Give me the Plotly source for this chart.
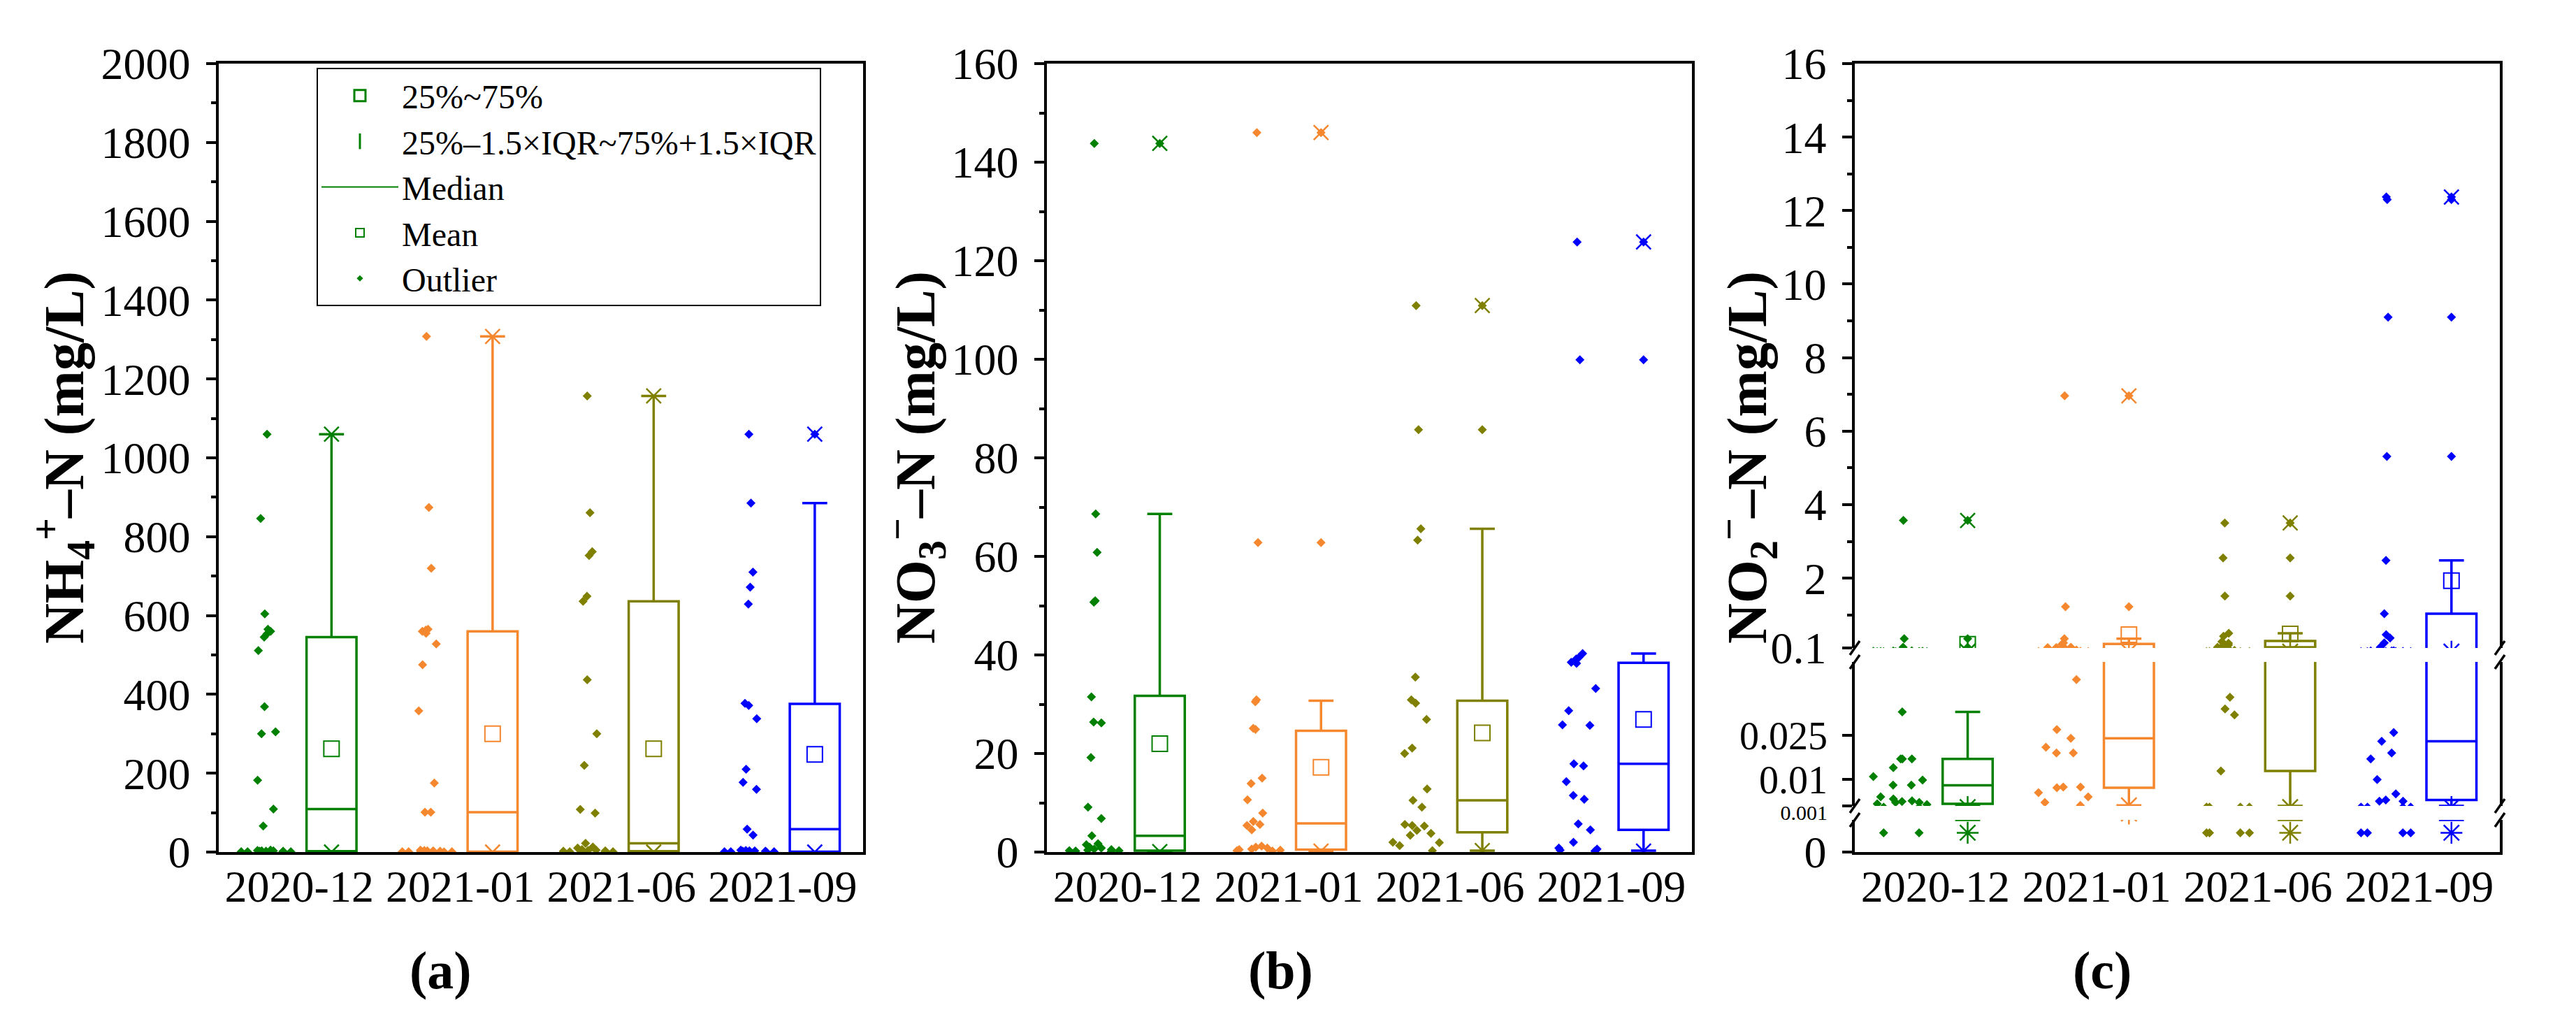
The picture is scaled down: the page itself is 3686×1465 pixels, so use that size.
import plotly.graph_objects as go

# ---------------------------------------------------------------- data
CATEGORIES = ["2020-12", "2021-01", "2021-06", "2021-09"]
COLORS = ["#008000", "#F5882F", "#808000", "#0000FF"]

# (a) NH4+-N raw samples (mg/L)
NH4_2020_12 = [1060, 846, 604, 565, 560, 553, 545, 511, 369, 305, 300, 182, 109, 66,
               5, 4, 3, 3, 2, 2, 2, 1, 1, 1, 0.5]
NH4_2021_01 = [1308, 874, 720, 565, 563, 560, 555, 528, 475, 358, 175, 101, 101,
               5, 4, 3, 3, 2, 2, 1, 1, 1, 0.5]
NH4_2021_06 = [1157, 861, 762, 752, 649, 636, 437, 300, 220, 108, 99, 22, 13, 10,
               6, 5, 4, 3, 2, 2, 1, 1, 1]
NH4_2021_09 = [1060, 885, 710, 672, 629, 377, 372, 338, 210, 177, 159, 58, 43,
               5, 4, 3, 3, 2, 2, 1, 1, 1, 0.5]
NH4_Q1 = [2, 1, 2, 1]
NH4_MEDIAN = [109, 101, 22, 58]
NH4_Q3 = [545, 560, 636, 376]
NH4_LOWER = [0, 0, 0, 0]
NH4_UPPER = [1060, 1308, 1157, 885]
NH4_MEAN = [262, 300, 262, 248]
NH4_MAX = [1060, 1308, 1157, 1060]
NH4_MIN = [0, 0, 0, 0]
NH4_OUTLIERS = [[], [], [], [1060]]

# (b) NO3--N raw samples (mg/L)
NO3_2020_12 = [143.8, 68.6, 60.8, 51.0, 50.7, 31.5, 26.4, 26.2, 19.2, 9.1, 6.8, 3.3,
               1.7, 1.5, 1.0, 0.8, 0.6, 0.5, 0.4, 0.3, 0.3, 0.2, 0.1]
NO3_2021_01 = [146.0, 62.8, 30.9, 30.5, 25.1, 24.9, 15.0, 13.9, 10.6, 7.9, 6.2, 5.6,
               5.4, 4.5, 1.2, 1.0, 0.8, 0.6, 0.5, 0.4, 0.3, 0.2]
NO3_2021_06 = [110.9, 85.7, 65.6, 63.3, 35.5, 30.9, 30.2, 26.9, 21.1, 20.0, 12.8, 10.5,
               9.1, 5.6, 5.4, 5.3, 4.4, 3.8, 3.4, 2.0, 1.9, 1.3, 0.3]
NO3_2021_09 = [123.8, 99.9, 40.3, 39.5, 39.2, 38.5, 38.3, 33.2, 28.7, 25.8, 25.7, 17.9,
               17.5, 14.3, 11.5, 10.7, 5.7, 4.5, 2.0, 0.8, 0.6, 0.4, 0.2]
NO3_Q1 = [0.3, 0.5, 4.0, 4.5]
NO3_MEDIAN = [3.3, 5.8, 10.5, 17.9]
NO3_Q3 = [31.7, 24.6, 30.7, 38.4]
NO3_LOWER = [0.1, 0.2, 0.3, 0.3]
NO3_UPPER = [68.6, 30.7, 65.6, 40.3]
NO3_MEAN = [22.0, 17.2, 24.2, 26.9]
NO3_MAX = [143.8, 146.0, 110.9, 123.8]
NO3_MIN = [0.1, 0.2, 0.3, 0.2]
NO3_OUTLIERS = [[143.8], [62.8, 146.0], [85.7, 110.9], [99.9, 123.8]]

# (c) NO2--N raw samples (mg/L)
NO2_2020_12 = [3.57, 0.35, 0.12, 0.033, 0.017, 0.017, 0.017, 0.014, 0.011, 0.0098,
               0.0081, 0.0081, 0.0041, 0.0034, 0.0027, 0.0025, 0.0022, 0.0022, 0.0017,
               0.0015, 0.0006, 0.0006]
NO2_2021_01 = [6.96, 1.22, 0.35, 0.24, 0.20, 0.13, 0.12, 0.11, 0.11, 0.044, 0.027,
               0.024, 0.021, 0.019, 0.019, 0.0074, 0.0074, 0.0072, 0.0055, 0.0041,
               0.0022, 0.0012]
NO2_2021_06 = [3.50, 2.55, 1.51, 0.50, 0.42, 0.27, 0.23, 0.18, 0.18, 0.12, 0.11, 0.038,
               0.034, 0.032, 0.0129, 0.0006, 0.0006, 0.0006, 0.0006]
NO2_2021_09 = [12.37, 12.30, 9.10, 5.31, 2.48, 1.03, 0.46, 0.37, 0.24, 0.12, 0.026,
               0.023, 0.019, 0.017, 0.010, 0.0051, 0.0030, 0.0026, 0.0026, 0.0006,
               0.0006, 0.0006, 0.0006]
NO2_Q1 = [0.0017, 0.0072, 0.0129, 0.0030]
NO2_MEDIAN = [0.008, 0.024, 0.12, 0.023]
NO2_Q3 = [0.017, 0.21, 0.29, 1.03]
NO2_LOWER = [0.001, 0.0012, 0.001, 0.001]
NO2_UPPER = [0.033, 0.35, 0.50, 2.48]
NO2_MEAN = [0.20, 0.46, 0.48, 1.93]
NO2_MAX = [3.57, 6.96, 3.50, 12.37]
NO2_MIN = [0.0006, 0.0012, 0.0006, 0.0006]
NO2_OUTLIERS = [[3.57, 0.35, 0.12], [6.96, 1.22], [3.50, 2.55, 1.51],
                [12.37, 12.30, 9.10, 5.31]]

# axis ticks
NH4_TICKS = [0, 200, 400, 600, 800, 1000, 1200, 1400, 1600, 1800, 2000]
NO3_TICKS = [0, 20, 40, 60, 80, 100, 120, 140, 160]
NO2_TOP_TICKS = [0.1, 2, 4, 6, 8, 10, 12, 14, 16]
NO2_MID_TICKS = [0.001, 0.01, 0.025]
NO2_LOW_TICKS = [0]

LEGEND_LABELS = ["25%~75%", "25%–1.5×IQR~75%+1.5×IQR", "Median", "Mean", "Outlier"]

# ---------------------------------------------------------------- layout constants
FONT = "Liberation Serif"
W, H = 3686, 1465
M_L, M_R, M_T, M_B = 305, 117, 83, 254
PW = W - M_L - M_R
PH = H - M_T - M_B

PANEL_PX = [(0, 922), (1185, 2108), (2341, 3264)]
SEG_PX = [(0, 46), (66, 272), (292, 1128)]   # broken axis segments of panel (c)


def fx(px):
    return px / PW


def fy(px):
    return px / PH


BOX_SHIFT = 0.2      # box drawn right of the category centre
SWARM_SHIFT = -0.2   # raw samples drawn left of the category centre
BOX_W = 0.31
SWARM_W = 0.38
JITTER = 1.0
LW = 3.5
TICKFONT = dict(family=FONT, size=64, color="black")

fig = go.Figure()

# ---------------------------------------------------------------- legend entries
G = COLORS[0]
fig.add_trace(go.Scatter(x=[None], y=[None], mode="markers", name=LEGEND_LABELS[0],
                         marker=dict(symbol="square-open", size=16, color=G,
                                     line=dict(width=3, color=G)),
                         xaxis="x", yaxis="y"))
fig.add_trace(go.Scatter(x=[None], y=[None], mode="markers", name=LEGEND_LABELS[1],
                         marker=dict(symbol="line-ns-open", size=16, color=G,
                                     line=dict(width=3, color=G)),
                         xaxis="x", yaxis="y"))
fig.add_trace(go.Scatter(x=[None], y=[None], mode="lines", name=LEGEND_LABELS[2],
                         line=dict(width=2, color=G), xaxis="x", yaxis="y"))
fig.add_trace(go.Scatter(x=[None], y=[None], mode="markers", name=LEGEND_LABELS[3],
                         marker=dict(symbol="square-open", size=12, color=G,
                                     line=dict(width=2, color=G)),
                         xaxis="x", yaxis="y"))
fig.add_trace(go.Scatter(x=[None], y=[None], mode="markers", name=LEGEND_LABELS[4],
                         marker=dict(symbol="diamond", size=7, color=G),
                         xaxis="x", yaxis="y"))


def add_panel(xa, ya, raws, q1, med, q3, lo, up, mean, mx, mn, outl, min_symbol):
    for i in range(len(CATEGORIES)):
        col = COLORS[i]
        pos = i + BOX_SHIFT
        # raw samples, jittered by plotly, left of the box (invisible box body)
        fig.add_trace(go.Box(y=raws[i], x0=i + SWARM_SHIFT, width=SWARM_W,
                             boxpoints="all", jitter=JITTER, pointpos=0,
                             line=dict(width=0, color=col),
                             fillcolor="rgba(0,0,0,0)", whiskerwidth=0,
                             marker=dict(symbol="diamond", size=10, color=col),
                             showlegend=False, xaxis=xa, yaxis=ya))
        # box from the statistics
        fig.add_trace(go.Box(x=[pos], q1=[q1[i]], median=[med[i]], q3=[q3[i]],
                             lowerfence=[lo[i]], upperfence=[up[i]], width=BOX_W,
                             line=dict(width=LW, color=col),
                             fillcolor="rgba(0,0,0,0)", whiskerwidth=0.5,
                             boxpoints=False, showlegend=False, xaxis=xa, yaxis=ya))
        if outl[i]:
            fig.add_trace(go.Scatter(x=[pos] * len(outl[i]), y=outl[i], mode="markers",
                                     marker=dict(symbol="diamond", size=10, color=col),
                                     showlegend=False, xaxis=xa, yaxis=ya))
        fig.add_trace(go.Scatter(x=[pos], y=[mean[i]], mode="markers",
                                 marker=dict(symbol="square-open", size=22, color=col,
                                             line=dict(width=2, color=col)),
                                 showlegend=False, xaxis=xa, yaxis=ya))
        fig.add_trace(go.Scatter(x=[pos], y=[mx[i]], mode="markers",
                                 marker=dict(symbol="x-thin-open", size=21, color=col,
                                             line=dict(width=2.5, color=col)),
                                 showlegend=False, xaxis=xa, yaxis=ya))
        fig.add_trace(go.Scatter(x=[pos], y=[mn[i]], mode="markers",
                                 marker=dict(symbol=min_symbol,
                                             size=26 if "ast" in min_symbol else 21,
                                             color=col, line=dict(width=2.5, color=col)),
                                 showlegend=False, xaxis=xa, yaxis=ya))


add_panel("x", "y", [NH4_2020_12, NH4_2021_01, NH4_2021_06, NH4_2021_09],
          NH4_Q1, NH4_MEDIAN, NH4_Q3, NH4_LOWER, NH4_UPPER, NH4_MEAN, NH4_MAX,
          NH4_MIN, NH4_OUTLIERS, "x-thin-open")
add_panel("x2", "y2", [NO3_2020_12, NO3_2021_01, NO3_2021_06, NO3_2021_09],
          NO3_Q1, NO3_MEDIAN, NO3_Q3, NO3_LOWER, NO3_UPPER, NO3_MEAN, NO3_MAX,
          NO3_MIN, NO3_OUTLIERS, "x-thin-open")
for xa, ya in [("x3", "y3"), ("x4", "y4"), ("x5", "y5")]:
    add_panel(xa, ya, [NO2_2020_12, NO2_2021_01, NO2_2021_06, NO2_2021_09],
              NO2_Q1, NO2_MEDIAN, NO2_Q3, NO2_LOWER, NO2_UPPER, NO2_MEAN, NO2_MAX,
              NO2_MIN, NO2_OUTLIERS, "asterisk-open")


# ---------------------------------------------------------------- axes
def xaxis(panel, anchor, **kw):
    d = dict(domain=[fx(PANEL_PX[panel][0]), fx(PANEL_PX[panel][1])], anchor=anchor,
             type="linear", range=[-0.5, len(CATEGORIES) - 0.5],
             tickmode="array", tickvals=list(range(len(CATEGORIES))),
             ticktext=CATEGORIES,
             ticks="", tickfont=TICKFONT, ticklabelstandoff=-10,
             showline=True, linecolor="black", linewidth=LW, mirror=True,
             showgrid=False, zeroline=False)
    d.update(kw)
    return d


def yaxis(anchor, **kw):
    d = dict(anchor=anchor, showline=True, linecolor="black", linewidth=LW, mirror=True,
             ticks="outside", ticklen=14, tickwidth=LW, tickcolor="black",
             tickfont=TICKFONT, ticklabelstandoff=10, showgrid=False, zeroline=False)
    d.update(kw)
    return d


minor_a = dict(ticks="outside", ticklen=7, tickwidth=LW, tickcolor="black", dtick=100)
minor_b = dict(ticks="outside", ticklen=7, tickwidth=LW, tickcolor="black", dtick=10)
minor_c = dict(ticks="outside", ticklen=7, tickwidth=LW, tickcolor="black", dtick=1, tick0=0)

mid_text = ["<span style='font-size:30px'>0.001</span>", "0.01", "0.025"]

fig.update_layout(
    xaxis=xaxis(0, "y"),
    yaxis=yaxis("x", range=[0, 2000], tickvals=NH4_TICKS, minor=minor_a),
    xaxis2=xaxis(1, "y2"),
    yaxis2=yaxis("x2", range=[0, 160], tickvals=NO3_TICKS, minor=minor_b),
    xaxis3=xaxis(2, "y3", mirror=False),
    yaxis3=yaxis("x3", domain=[fy(SEG_PX[0][0]), fy(SEG_PX[0][1])], range=[0, 0.001],
                 tickvals=NO2_LOW_TICKS, ticktext=["0"]),
    xaxis4=xaxis(2, "y4", showline=False, showticklabels=False, tickvals=[],
                 ticktext=[], matches="x3"),
    yaxis4=yaxis("x4", domain=[fy(SEG_PX[1][0]), fy(SEG_PX[1][1])], range=[0.001, 0.05],
                 tickvals=NO2_MID_TICKS, ticktext=mid_text,
                 tickfont=dict(family=FONT, size=56, color="black")),
    xaxis5=xaxis(2, "y5", side="top", mirror=False, showticklabels=False, tickvals=[],
                 ticktext=[], matches="x3"),
    yaxis5=yaxis("x5", domain=[fy(SEG_PX[2][0]), fy(SEG_PX[2][1])], range=[0.1, 16],
                 tickvals=NO2_TOP_TICKS, ticktext=[str(t) for t in NO2_TOP_TICKS],
                 minor=minor_c),
)

# ---------------------------------------------------------------- broken-axis marks
shapes = []
cx0, cx1 = fx(PANEL_PX[2][0]), fx(PANEL_PX[2][1])
dx, dy = fx(7), fy(10)
for edge in [SEG_PX[0][1], SEG_PX[1][0], SEG_PX[1][1], SEG_PX[2][0]]:
    ey = fy(edge)
    for ex in (cx0, cx1):
        shapes.append(dict(type="line", xref="paper", yref="paper",
                           x0=ex - dx, y0=ey - dy, x1=ex + dx, y1=ey + dy,
                           line=dict(color="black", width=LW)))

# ---------------------------------------------------------------- titles / letters
TITLES = ["NH<sub>4</sub><sup>+</sup>–N (mg/L)",
          "NO<sub>3</sub><sup>−</sup>–N (mg/L)",
          "NO<sub>2</sub><sup>−</sup>–N (mg/L)"]
TITLE_X_PX = [-222, 996, 2186]
LETTERS = ["(a)", "(b)", "(c)"]
LETTER_X_PX = [317, 1519, 2695]
annotations = []
for t, xp in zip(TITLES, TITLE_X_PX):
    annotations.append(dict(text=t, xref="paper", yref="paper", x=fx(xp), y=0.5,
                            textangle=-90, showarrow=False, xanchor="center",
                            yanchor="middle",
                            font=dict(family=FONT, size=80, color="black",
                                      weight="bold")))
for t, xp in zip(LETTERS, LETTER_X_PX):
    annotations.append(dict(text=t, xref="paper", yref="paper",
                            x=fx(xp), y=fy(-169), showarrow=False, xanchor="center",
                            yanchor="middle",
                            font=dict(family=FONT, size=76, color="black",
                                      weight="bold")))

fig.update_layout(
    width=W, height=H,
    margin=dict(l=M_L, r=M_R, t=M_T, b=M_B, pad=0),
    paper_bgcolor="white", plot_bgcolor="white",
    boxmode="overlay",
    shapes=shapes, annotations=annotations,
    showlegend=True,
    legend=dict(x=fx(140), y=1 - fy(6), xanchor="left", yanchor="top",
                bgcolor="white", bordercolor="black", borderwidth=2,
                font=dict(family=FONT, size=48, color="black"),
                itemwidth=110, tracegroupgap=0),
)

fig.write_html("out.html")
